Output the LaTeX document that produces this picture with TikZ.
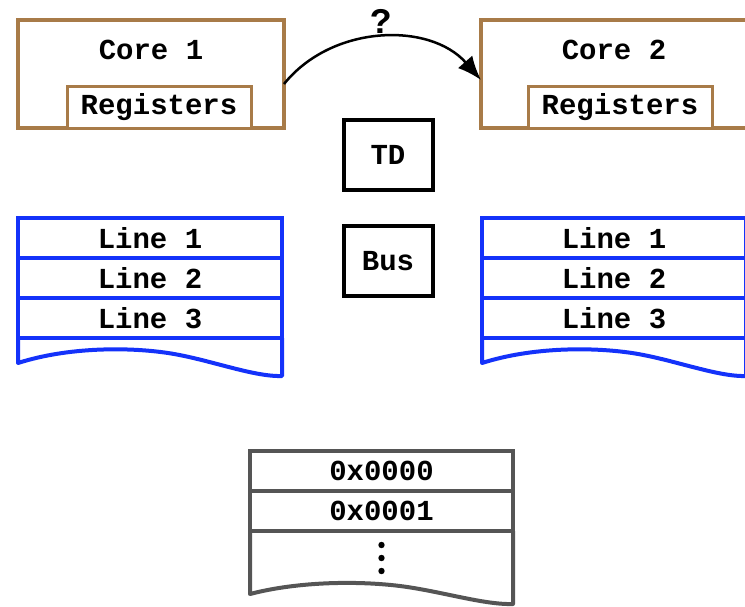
\documentclass[tikz,border=0pt]{standalone}
\usepackage{fontspec}
\setmainfont{Liberation Mono}
\usetikzlibrary{arrows.meta,positioning}
\definecolor{corebrown}{RGB}{168,123,72}
\definecolor{cacheblue}{RGB}{20,50,250}
\definecolor{memgrey}{RGB}{85,85,85}
\tikzset{
    corebox/.style = {draw=corebrown, line width=4pt, minimum width=266pt, minimum height=108pt, outer sep=0pt},
    regbox/.style = {draw=corebrown, line width=3pt, fill=white, minimum width=184pt, minimum height=42pt, inner sep=0pt, outer sep=0pt},
    unitbox/.style = {draw, line width=4pt, minimum width=89pt, minimum height=70pt, outer sep=0pt},
    cacheline/.style = {draw=cacheblue, line width=4pt, minimum width=264pt, minimum height=40pt, outer sep=0pt},
    cachewave/.style = {draw=cacheblue, line width=4pt, line join=round},
    memrow/.style = {draw=memgrey, line width=4pt, minimum width=263pt, minimum height=40pt, outer sep=0pt},
    memwave/.style = {draw=memgrey, line width=4pt, line join=round},
    migrate/.style = {-{Latex[length=24pt,width=19pt]}, line width=2.5pt}
}

\begin{document}
\begin{tikzpicture}[x=1pt, y=-1pt, font=\bfseries\fontsize{29}{32}\selectfont]
    \useasboundingbox (0,0) rectangle (745,606);

    % Cores
    \node[corebox] (core1) at (151,74) {};
    \node[corebox] (core2) at (614,74) {};
    \node[regbox, anchor=south west] (reg1) at ([xshift=49pt]core1.south west) {Registers};
    \node[regbox, anchor=south west] (reg2) at ([xshift=47pt]core2.south west) {Registers};
    \node (core1name) at ([yshift=-30pt]core1.north) {Core 1};
    \node (core2name) at ([yshift=-30pt]core2.north) {Core 2};

    % Migration
    \draw[migrate] ([yshift=-10pt]core1.east) to[bend left=50]
        node[above, font=\bfseries\fontsize{36}{40}\selectfont] {?} ([yshift=-6pt]core2.west);

    % TD and bus
    \node[unitbox] (td) at (388,155) {TD};
    \node[unitbox, below=36pt of td] (bus) {Bus};

    % Caches
    \node[cacheline] (c1l1) at (150,238) {Line 1};
    \node[cacheline, below=0pt of c1l1] (c1l2) {Line 2};
    \node[cacheline, below=0pt of c1l2] (c1l3) {Line 3};
    \draw[cachewave] (c1l3.south west) -- ++(0,25)
        .. controls +(50,-16) and +(-40,-6) .. ++(150,-10)
        .. controls +(40,6) and +(-29,1) .. ++(114,23) -- (c1l3.south east);

    \node[cacheline] (c2l1) at (614,238) {Line 1};
    \node[cacheline, below=0pt of c2l1] (c2l2) {Line 2};
    \node[cacheline, below=0pt of c2l2] (c2l3) {Line 3};
    \draw[cachewave] (c2l3.south west) -- ++(0,25)
        .. controls +(50,-16) and +(-40,-6) .. ++(150,-10)
        .. controls +(40,6) and +(-29,1) .. ++(114,23) -- (c2l3.south east);

    % Memory
    \node[memrow] (m1) at (381.5,471) {0x0000};
    \node[memrow, below=0pt of m1] (m2) {0x0001};
    \draw[memwave] (m2.south west) -- ++(0,63)
        .. controls +(50,-13) and +(-40,-5) .. ++(150,-8)
        .. controls +(40,5) and +(-29,1) .. ++(113,18) -- (m2.south east);
    \coordinate (mdots) at ([yshift=-27pt]m2.south);
    \foreach \dy in {-13,0,13}
        \fill ([yshift=\dy pt]mdots) circle (3.2pt);

\end{tikzpicture}
\end{document}
